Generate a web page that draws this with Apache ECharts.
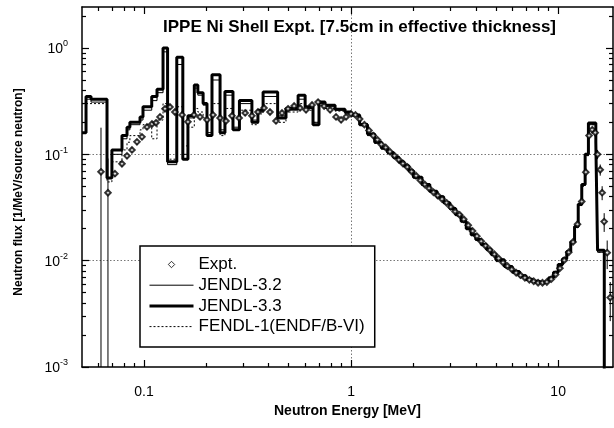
<!DOCTYPE html>
<html>
<head>
<meta charset="utf-8">
<script src="https://cdn.jsdelivr.net/npm/echarts@6/dist/echarts.min.js"></script>
<style>
html,body{margin:0;padding:0;background:#fff;}
#chart{width:614px;height:428px;}
</style>
</head>
<body>
<div id="chart"></div>
<script>
// ---- axis ranges / ticks ----
const E_MIN = 0.0502, E_MAX = 18.4;
const F_MIN = 0.001, F_MAX = 2.43;
const xMajorTicks = [0.1, 1, 10];
const xMinorTicks = [0.06,0.07,0.08,0.09,0.2,0.3,0.4,0.5,0.6,0.7,0.8,0.9,2,3,4,5,6,7,8,9];
const yMajorTicks = [0.001, 0.01, 0.1, 1];
const yMinorTicks = [0.002,0.003,0.004,0.005,0.006,0.007,0.008,0.009,0.02,0.03,0.04,0.05,0.06,0.07,0.08,0.09,0.2,0.3,0.4,0.5,0.6,0.7,0.8,0.9,2];

// ---- histogram bin lower edges (MeV) ----
const binEdgesLow = [0.0502,0.0525,0.0555,0.0663,0.070,0.0783,0.0828,0.0855,0.0957,0.0989,0.109,0.1156,0.1236,0.130,0.144,0.154,0.163,0.175,0.182,0.193,0.2015,0.213,0.233,0.246,0.269,0.289,0.332,0.355,0.376,0.442,0.485,0.555,0.600,0.655,0.700,0.749,0.837,0.935];
const binEdgesHigh = [1.0,1.1,1.2,1.3,1.4,1.5,1.6,1.7,1.8,1.9,2.0,2.2,2.4,2.6,2.8,3.0,3.2,3.4,3.6,3.8,4.0,4.25,4.5,4.75,5.0,5.5,6.0,6.5,7.0,7.5,8.0,8.5,9.0,9.5,10.0,10.5,11.0,11.5,12.0,12.5,13.0,13.5,14.0,15.2,15.5,16.7];
const binEdgeLast = 18.4;

// ---- JENDL-3.3 (thick) ----
const j33Low = [0.16,0.35,0.33,0.06,0.11,0.15,0.18,0.20,0.225,0.28,0.35,0.41,1.0,0.085,0.82,0.09,0.23,0.45,0.38,0.30,0.15,0.56,0.16,0.39,0.17,0.32,0.20,0.26,0.385,0.22,0.27,0.36,0.28,0.19,0.31,0.29,0.265,0.25];
const j33High = [0.235,0.19,0.155,0.13,0.115,0.104,0.094,0.085,0.078,0.070,0.061,0.052,0.045,0.040,0.035,0.031,0.027,0.0235,0.020,0.0175,0.0158,0.0142,0.0128,0.0115,0.0102,0.0088,0.0079,0.0072,0.0067,0.0064,0.0062,0.0064,0.0069,0.0078,0.0092,0.0104,0.0122,0.0150,0.021,0.034,0.052,0.100,0.197,0.13,0.0125,0.00001];

// ---- JENDL-3.2 (thin) ----
const j32Low = [0.16,0.33,0.31,0.06,0.10,0.14,0.17,0.19,0.21,0.26,0.32,0.38,0.92,0.08,0.70,0.10,0.22,0.42,0.36,0.29,0.16,0.50,0.17,0.36,0.18,0.30,0.21,0.25,0.35,0.23,0.26,0.33,0.27,0.20,0.30,0.28,0.26,0.245];
const j32High = [0.23,0.195,0.15,0.128,0.112,0.101,0.092,0.083,0.077,0.069,0.060,0.051,0.0445,0.039,0.0345,0.0305,0.0268,0.0232,0.0198,0.0177,0.0156,0.0140,0.0126,0.0113,0.0100,0.0087,0.0078,0.0071,0.0066,0.0063,0.0061,0.0063,0.0068,0.0077,0.0090,0.0103,0.0120,0.0148,0.0205,0.033,0.051,0.098,0.19,0.125,0.012,0.00001];

// ---- FENDL-1 (dotted) ----
const fenLow = [0.30,0.30,0.30,0.055,0.085,0.11,0.13,0.15,0.17,0.19,0.14,0.21,0.30,0.09,0.28,0.12,0.18,0.27,0.25,0.22,0.15,0.30,0.15,0.27,0.17,0.26,0.19,0.24,0.30,0.20,0.25,0.30,0.26,0.20,0.29,0.27,0.255,0.24];
const fenHigh = [0.24,0.19,0.152,0.127,0.113,0.102,0.092,0.084,0.076,0.068,0.059,0.050,0.044,0.0385,0.034,0.030,0.0262,0.0228,0.0196,0.0172,0.0154,0.0138,0.0124,0.0111,0.0098,0.0085,0.0076,0.0069,0.0065,0.0062,0.0060,0.0062,0.0067,0.0076,0.0089,0.0102,0.0121,0.0149,0.0208,0.033,0.050,0.097,0.19,0.12,0.012,0.00001];

// ---- Experiment ----
const expELow = [0.0620,0.0670,0.0724,0.0783,0.0828,0.0875,0.0925,0.0978,0.1034,0.1093,0.1143,0.1195,0.1263,0.1335,0.141,0.1527,0.163,0.1744,0.1865,0.2015,0.2155,0.233,0.249,0.266,0.288,0.308,0.332,0.355,0.380,0.406,0.434,0.464,0.496,0.531,0.567,0.606,0.648,0.693,0.741,0.792,0.846,0.895,0.946];
const expFLow = [0.0685,0.0435,0.0658,0.0815,0.0968,0.110,0.131,0.146,0.181,0.193,0.198,0.225,0.268,0.279,0.25,0.235,0.202,0.235,0.225,0.211,0.235,0.220,0.206,0.23,0.22,0.245,0.23,0.25,0.273,0.25,0.206,0.245,0.268,0.285,0.273,0.262,0.291,0.31,0.285,0.262,0.225,0.211,0.225];
const expErrLow = [1.6,1.1,0.06,0.06,0.06,0.06,0.06,0.06,0.06,0.06,0.06,0.06,0.06,0.06,0.06,0.06,0.06,0.06,0.06,0.06,0.06,0.06,0.06,0.06,0.06,0.06,0.06,0.06,0.06,0.06,0.06,0.06,0.06,0.06,0.06,0.06,0.06,0.06,0.06,0.06,0.06,0.06,0.06];
const expEHigh = [1.0,1.05,1.10,1.16,1.22,1.28,1.34,1.40,1.47,1.54,1.62,1.70,1.78,1.87,1.96,2.06,2.16,2.27,2.38,2.50,2.62,2.75,2.89,3.03,3.18,3.34,3.50,3.68,3.86,4.05,4.25,4.46,4.68,4.92,5.16,5.42,5.69,5.97,6.27,6.58,6.91,7.26,7.62,8.00,8.40,8.82,9.26,9.72,10.2,10.7,11.25,11.8,12.4,13.0,13.6,14.1,14.6,15.1,15.5,15.96,16.31,16.68,17.25,17.84];
const expFHigh = [0.24,0.235,0.215,0.19,0.168,0.15,0.137,0.124,0.116,0.106,0.097,0.089,0.082,0.076,0.069,0.063,0.057,0.052,0.048,0.044,0.041,0.038,0.035,0.032,0.029,0.027,0.0245,0.0215,0.019,0.0170,0.0152,0.0138,0.0126,0.0115,0.0105,0.0096,0.0089,0.0083,0.0077,0.0073,0.0069,0.0066,0.0064,0.0062,0.0062,0.0063,0.0067,0.0074,0.0085,0.0101,0.0120,0.0150,0.022,0.036,0.068,0.15,0.17,0.16,0.10,0.0716,0.0436,0.0233,0.0119,0.0045];
const expErrHigh = [0.04,0.04,0.04,0.04,0.04,0.04,0.04,0.04,0.04,0.04,0.04,0.04,0.04,0.04,0.04,0.04,0.04,0.04,0.04,0.04,0.04,0.04,0.04,0.04,0.04,0.04,0.04,0.04,0.04,0.04,0.04,0.04,0.04,0.04,0.04,0.04,0.04,0.04,0.04,0.04,0.04,0.04,0.04,0.04,0.04,0.04,0.04,0.04,0.04,0.04,0.04,0.04,0.04,0.04,0.04,0.06,0.06,0.08,0.10,0.12,0.15,0.20,0.30,0.40];

const seriesNames = ['Expt.', 'JENDL-3.2', 'JENDL-3.3', 'FENDL-1(ENDF/B-VI)'];
const titleText = 'IPPE Ni Shell Expt. [7.5cm in effective thickness]';
const xName = 'Neutron Energy [MeV]';
const yName = 'Neutron flux [1/MeV/source neutron]';

// ---- build ----
const edges = binEdgesLow.concat(binEdgesHigh, [binEdgeLast]);
function hist(lo, hi) {
  const v = lo.concat(hi);
  return edges.map((e, i) => [e, v[Math.min(i, v.length - 1)]]);
}
const expE = expELow.concat(expEHigh), expF = expFLow.concat(expFHigh), expErr = expErrLow.concat(expErrHigh);
const expAll = expE.map((e, i) => [e, expF[i], expErr[i]]);

const FONT = 'Liberation Sans';
function supLabel(v) {
  const p = Math.round(Math.log10(v));
  return '{b|10}{s|' + p + '}';
}
const rich = {
  b: {fontSize: 14, fontFamily: FONT, color: '#000', verticalAlign: 'bottom'},
  s: {fontSize: 9, fontFamily: FONT, color: '#000', verticalAlign: 'bottom', padding: [0, 0, 8, 0]}
};

function xAx(pos, major) {
  return {
    type: 'log', logBase: 10, min: E_MIN, max: E_MAX, position: pos,
    axisLine: {show: major, lineStyle: {color: '#000', width: 1.5}},
    axisTick: {show: true, inside: true, length: major ? 7 : 4, customValues: major ? xMajorTicks : xMinorTicks, lineStyle: {color: '#000', width: 1.2}},
    axisLabel: {show: major && pos === 'bottom', customValues: xMajorTicks, margin: 18, fontSize: 14, fontFamily: FONT, color: '#000',
      formatter: v => (v < 1 ? v.toFixed(1) : String(Math.round(v)))},
    splitLine: {show: major && pos === 'bottom', showMinLine: false, showMaxLine: false, lineStyle: {color: '#777', type: [1.5, 2], width: 1}},
    name: (major && pos === 'bottom') ? xName : '', nameLocation: 'middle', nameGap: 32,
    nameTextStyle: {fontSize: 14, fontWeight: 'bold', fontFamily: FONT, color: '#000'}
  };
}
function yAx(pos, major) {
  return {
    type: 'log', logBase: 10, min: F_MIN, max: F_MAX, position: pos,
    axisLine: {show: major, lineStyle: {color: '#000', width: 1.5}},
    axisTick: {show: true, inside: true, length: major ? 7 : 4, customValues: major ? yMajorTicks : yMinorTicks, lineStyle: {color: '#000', width: 1.2}},
    axisLabel: {show: major && pos === 'left', customValues: yMajorTicks, margin: 14, formatter: supLabel, rich: rich},
    splitLine: {show: major && pos === 'left', showMinLine: false, showMaxLine: false, lineStyle: {color: '#777', type: [1.5, 2], width: 1}},
    name: (major && pos === 'left') ? yName : '', nameLocation: 'middle', nameGap: 57, nameRotate: 90,
    nameTextStyle: {fontSize: 12, fontWeight: 'bold', fontFamily: FONT, color: '#000', padding: [0, 10, 0, 0]}
  };
}

const chart = echarts.init(document.getElementById('chart'), null, {renderer: 'canvas'});
chart.setOption({
  animation: false,
  backgroundColor: '#fff',
  textStyle: {fontFamily: FONT},
  title: {text: titleText, left: 163, top: 19, padding: 0,
    textStyle: {fontSize: 17, fontWeight: 'bold', fontFamily: FONT, color: '#000'}},
  grid: {left: 82, right: 1, top: 7, bottom: 61, containLabel: false},
  xAxis: [xAx('bottom', true), xAx('bottom', false), xAx('top', true), xAx('top', false)],
  yAxis: [yAx('left', true), yAx('left', false), yAx('right', true), yAx('right', false)],
  legend: {
    orient: 'vertical', left: 140, top: 246, padding: [10, 10, 12, 8], itemGap: 3.7,
    itemWidth: 44, itemHeight: 8, backgroundColor: '#fff', borderColor: '#000', borderWidth: 1.5,
    borderRadius: 0, z: 20,
    textStyle: {fontSize: 17, fontFamily: FONT, color: '#000'},
    data: [
      {name: seriesNames[0], icon: 'path://M0,0M44,8M22,0.8L25.2,4L22,7.2L18.8,4Z',
        itemStyle: {color: '#fff', borderColor: '#000', borderWidth: 1}},
      {name: seriesNames[1], itemStyle: {opacity: 0}, lineStyle: {width: 1}},
      {name: seriesNames[2], itemStyle: {opacity: 0}, lineStyle: {width: 3}},
      {name: seriesNames[3], itemStyle: {opacity: 0}, lineStyle: {width: 1}}
    ]
  },
  series: [
    {name: seriesNames[1], type: 'line', step: 'end', data: hist(j32Low, j32High), symbol: 'none', clip: true,
      lineStyle: {color: '#000', width: 1}, itemStyle: {color: '#000'}, z: 2},
    {name: seriesNames[3], type: 'line', step: 'end', data: hist(fenLow, fenHigh), symbol: 'none', clip: true,
      lineStyle: {color: '#000', width: 1, type: [2, 2]}, itemStyle: {color: '#000'}, z: 2},
    {name: seriesNames[2], type: 'line', step: 'end', data: hist(j33Low, j33High), symbol: 'none', clip: true,
      lineStyle: {color: '#000', width: 3}, itemStyle: {color: '#000'}, z: 3},
    {name: 'err', type: 'custom', data: expAll, clip: true, z: 4, silent: true,
      renderItem: function (params, api) {
        const x = api.value(0), y = api.value(1), e = api.value(2);
        const lo = Math.max(y - y * e, 1e-6), hi = y + y * e;
        const p1 = api.coord([x, lo]), p2 = api.coord([x, hi]);
        return {type: 'line', shape: {x1: p1[0], y1: p1[1], x2: p2[0], y2: p2[1]}, style: {stroke: '#000', lineWidth: 1}};
      }},
    {name: seriesNames[0], type: 'scatter', data: expAll.map(d => [d[0], d[1]]), symbol: 'emptyDiamond', symbolSize: 5.5,
      itemStyle: {color: '#000', borderColor: '#000', borderWidth: 1}, z: 5}
  ]
});
</script>
</body>
</html>
